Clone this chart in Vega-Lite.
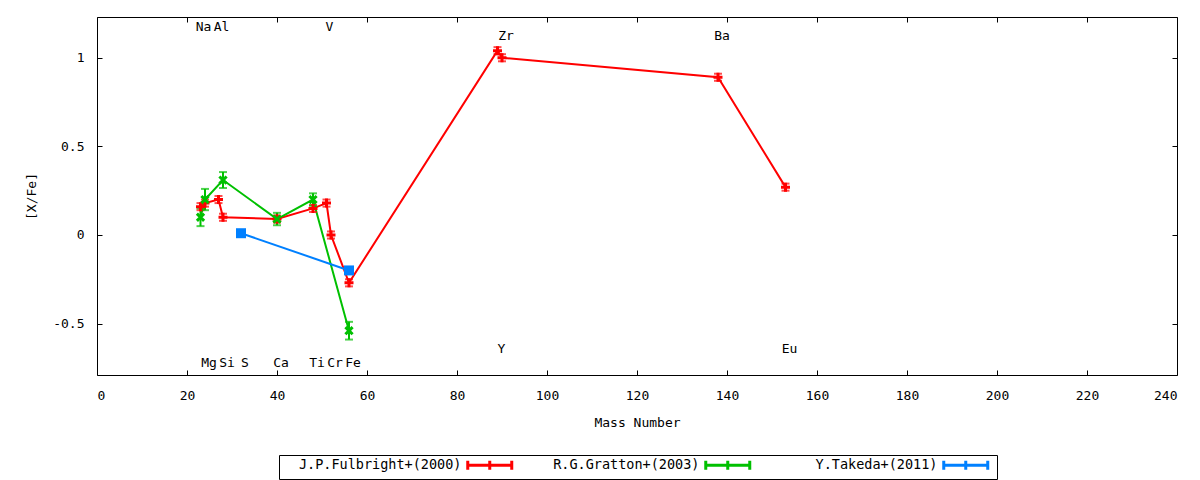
{
  "$schema": "https://vega.github.io/schema/vega-lite/v6.json",
  "width": 1080,
  "height": 358,
  "autosize": {"type": "none"},
  "padding": {"left": 97, "top": 17, "right": 23, "bottom": 105},
  "background": "white",
  "config": {
    "font": "DejaVu Sans Mono",
    "view": {"stroke": "black", "strokeWidth": 1},
    "axis": {
      "labelFont": "DejaVu Sans Mono",
      "labelFontSize": 13,
      "labelColor": "black",
      "titleFont": "DejaVu Sans Mono",
      "titleFontSize": 13,
      "titleFontWeight": "normal",
      "titleColor": "black",
      "tickColor": "black",
      "tickWidth": 1,
      "grid": false,
      "domain": false
    },
    "text": {"font": "DejaVu Sans Mono", "fontSize": 13, "color": "black"}
  },
  "datasets": {
    "abund": [
      {"source": "J.P.Fulbright+(2000)", "element": "Na", "mass": 23, "xfe": 0.16, "lo": 0.14, "hi": 0.18},
      {"source": "J.P.Fulbright+(2000)", "element": "Mg", "mass": 24, "xfe": 0.18, "lo": 0.16, "hi": 0.20},
      {"source": "J.P.Fulbright+(2000)", "element": "Al", "mass": 27, "xfe": 0.20, "lo": 0.18, "hi": 0.22},
      {"source": "J.P.Fulbright+(2000)", "element": "Si", "mass": 28, "xfe": 0.10, "lo": 0.08, "hi": 0.12},
      {"source": "J.P.Fulbright+(2000)", "element": "Ca", "mass": 40, "xfe": 0.09, "lo": 0.07, "hi": 0.11},
      {"source": "J.P.Fulbright+(2000)", "element": "Ti", "mass": 48, "xfe": 0.15, "lo": 0.13, "hi": 0.17},
      {"source": "J.P.Fulbright+(2000)", "element": "V", "mass": 51, "xfe": 0.18, "lo": 0.16, "hi": 0.20},
      {"source": "J.P.Fulbright+(2000)", "element": "Cr", "mass": 52, "xfe": 0.00, "lo": -0.02, "hi": 0.02},
      {"source": "J.P.Fulbright+(2000)", "element": "Fe", "mass": 56, "xfe": -0.27, "lo": -0.29, "hi": -0.25},
      {"source": "J.P.Fulbright+(2000)", "element": "Y", "mass": 89, "xfe": 1.04, "lo": 1.02, "hi": 1.06},
      {"source": "J.P.Fulbright+(2000)", "element": "Zr", "mass": 90, "xfe": 1.00, "lo": 0.98, "hi": 1.02},
      {"source": "J.P.Fulbright+(2000)", "element": "Ba", "mass": 138, "xfe": 0.89, "lo": 0.87, "hi": 0.91},
      {"source": "J.P.Fulbright+(2000)", "element": "Eu", "mass": 153, "xfe": 0.27, "lo": 0.25, "hi": 0.29},
      {"source": "R.G.Gratton+(2003)", "element": "Na", "mass": 23, "xfe": 0.10, "lo": 0.05, "hi": 0.15},
      {"source": "R.G.Gratton+(2003)", "element": "Mg", "mass": 24, "xfe": 0.20, "lo": 0.14, "hi": 0.26},
      {"source": "R.G.Gratton+(2003)", "element": "Si", "mass": 28, "xfe": 0.31, "lo": 0.265, "hi": 0.355},
      {"source": "R.G.Gratton+(2003)", "element": "Ca", "mass": 40, "xfe": 0.09, "lo": 0.055, "hi": 0.125},
      {"source": "R.G.Gratton+(2003)", "element": "Ti", "mass": 48, "xfe": 0.20, "lo": 0.165, "hi": 0.235},
      {"source": "R.G.Gratton+(2003)", "element": "Fe", "mass": 56, "xfe": -0.54, "lo": -0.59, "hi": -0.49},
      {"source": "Y.Takeda+(2011)", "element": "S", "mass": 32, "xfe": 0.01, "lo": 0.0, "hi": 0.02},
      {"source": "Y.Takeda+(2011)", "element": "Fe", "mass": 56, "xfe": -0.20, "lo": -0.21, "hi": -0.19}
    ],
    "labels": [
      {"element": "Na", "mass": 23, "place": "top1"},
      {"element": "Al", "mass": 27, "place": "top1"},
      {"element": "V", "mass": 51, "place": "top1"},
      {"element": "Zr", "mass": 90, "place": "top2"},
      {"element": "Ba", "mass": 138, "place": "top2"},
      {"element": "Y", "mass": 89, "place": "bot1"},
      {"element": "Eu", "mass": 153, "place": "bot1"},
      {"element": "Mg", "mass": 24, "place": "bot2"},
      {"element": "Si", "mass": 28, "place": "bot2"},
      {"element": "S", "mass": 32, "place": "bot2"},
      {"element": "Ca", "mass": 40, "place": "bot2"},
      {"element": "Ti", "mass": 48, "place": "bot2"},
      {"element": "Cr", "mass": 52, "place": "bot2"},
      {"element": "Fe", "mass": 56, "place": "bot2"}
    ]
  },
  "resolve": {"axis": {"x": "independent", "y": "independent"}},
  "layer": [
    {
      "data": {"name": "abund"},
      "mark": {"type": "line", "strokeWidth": 2},
      "encoding": {
        "x": {
          "field": "mass", "type": "quantitative",
          "scale": {"domain": [0, 240], "nice": false, "zero": false},
          "axis": {
            "orient": "bottom", "title": "Mass Number",
            "values": [0, 20, 40, 60, 80, 100, 120, 140, 160, 180, 200, 220, 240],
            "tickSize": -5, "labelPadding": 19, "titlePadding": 14
          }
        },
        "y": {
          "field": "xfe", "type": "quantitative",
          "scale": {"domain": [-0.79, 1.23], "nice": false, "zero": false},
          "axis": {
            "orient": "left", "title": "[X/Fe]",
            "values": [-0.5, 0, 0.5, 1],
            "labelExpr": "toString(datum.value)",
            "tickSize": -5, "labelPadding": 18, "titlePadding": 14
          }
        },
        "color": {
          "field": "source", "type": "nominal",
          "scale": {
            "domain": ["J.P.Fulbright+(2000)", "R.G.Gratton+(2003)", "Y.Takeda+(2011)"],
            "range": ["#ff0000", "#00c000", "#0080ff"]
          },
          "legend": {
            "orient": "none", "legendX": 182, "legendY": 438,
            "direction": "horizontal", "title": null,
            "symbolType": "M-4.4,0L4.4,0M-4.4,-0.9L-4.4,0.9M4.4,-0.9L4.4,0.9M0,-0.9L0,0.9",
            "symbolSize": 100, "symbolStrokeWidth": 3,
            "symbolOffset": 201,
            "labelAlign": "right", "labelOffset": -35,
            "labelFont": "DejaVu Sans Mono", "labelFontSize": 13.5, "labelColor": "black",
            "labelLimit": 400,
            "strokeColor": "black", "padding": 3, "columnPadding": 2
          }
        },
        "order": {"field": "mass", "type": "quantitative"}
      }
    },
    {
      "data": {"name": "abund"},
      "mark": {"type": "rule", "strokeWidth": 2},
      "encoding": {
        "x": {
          "field": "mass", "type": "quantitative",
          "axis": {
            "orient": "top", "title": null, "labels": false,
            "values": [0, 20, 40, 60, 80, 100, 120, 140, 160, 180, 200, 220, 240],
            "tickSize": -5
          }
        },
        "y": {
          "field": "lo", "type": "quantitative",
          "axis": {"orient": "right", "title": null, "labels": false, "values": [-0.5, 0, 0.5, 1], "tickSize": -5}
        },
        "y2": {"field": "hi"},
        "color": {"field": "source", "type": "nominal", "legend": null}
      }
    },
    {
      "data": {"name": "abund"},
      "transform": [{"fold": ["lo", "hi"], "as": ["bound", "yb"]}],
      "mark": {"type": "tick", "orient": "horizontal", "size": 8, "thickness": 2},
      "encoding": {
        "x": {"field": "mass", "type": "quantitative", "axis": null},
        "y": {"field": "yb", "type": "quantitative", "axis": null},
        "color": {"field": "source", "type": "nominal", "legend": null}
      }
    },
    {
      "data": {"name": "abund"},
      "transform": [{"filter": "datum.source !== 'Y.Takeda+(2011)'"}],
      "mark": {"type": "point", "filled": false, "strokeWidth": 3, "size": 81, "opacity": 1},
      "encoding": {
        "x": {"field": "mass", "type": "quantitative", "axis": null},
        "y": {"field": "xfe", "type": "quantitative", "axis": null},
        "color": {"field": "source", "type": "nominal", "legend": null},
        "shape": {
          "field": "source", "type": "nominal",
          "scale": {
            "domain": ["J.P.Fulbright+(2000)", "R.G.Gratton+(2003)"],
            "range": ["M-1,0L1,0M0,-1L0,1", "M-0.8,-0.8L0.8,0.8M-0.8,0.8L0.8,-0.8"]
          },
          "legend": null
        }
      }
    },
    {
      "data": {"name": "abund"},
      "transform": [{"filter": "datum.source === 'Y.Takeda+(2011)'"}],
      "mark": {"type": "square", "filled": true, "size": 100, "opacity": 1},
      "encoding": {
        "x": {"field": "mass", "type": "quantitative", "axis": null},
        "y": {"field": "xfe", "type": "quantitative", "axis": null},
        "color": {"field": "source", "type": "nominal", "legend": null}
      }
    },
    {
      "data": {"name": "labels"},
      "transform": [{"filter": "datum.place === 'top1'"}],
      "mark": {"type": "text", "dx": 3},
      "encoding": {
        "x": {"field": "mass", "type": "quantitative", "axis": null},
        "y": {"datum": 1.175, "type": "quantitative", "axis": null},
        "text": {"field": "element"}
      }
    },
    {
      "data": {"name": "labels"},
      "transform": [{"filter": "datum.place === 'top2'"}],
      "mark": {"type": "text", "dx": 4},
      "encoding": {
        "x": {"field": "mass", "type": "quantitative", "axis": null},
        "y": {"datum": 1.12, "type": "quantitative", "axis": null},
        "text": {"field": "element"}
      }
    },
    {
      "data": {"name": "labels"},
      "transform": [{"filter": "datum.place === 'bot1'"}],
      "mark": {"type": "text", "dx": 4},
      "encoding": {
        "x": {"field": "mass", "type": "quantitative", "axis": null},
        "y": {"datum": -0.645, "type": "quantitative", "axis": null},
        "text": {"field": "element"}
      }
    },
    {
      "data": {"name": "labels"},
      "transform": [{"filter": "datum.place === 'bot2'"}],
      "mark": {"type": "text", "dx": 4},
      "encoding": {
        "x": {"field": "mass", "type": "quantitative", "axis": null},
        "y": {"datum": -0.72, "type": "quantitative", "axis": null},
        "text": {"field": "element"}
      }
    }
  ]
}
